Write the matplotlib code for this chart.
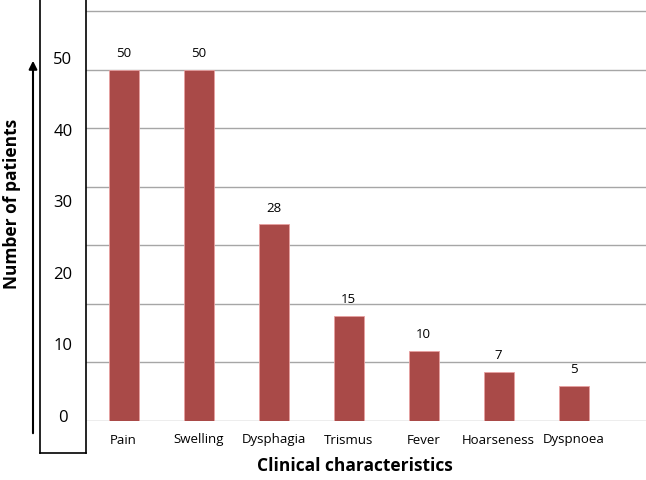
import matplotlib
matplotlib.use("Agg")
import matplotlib.pyplot as plt
import numpy as np

categories = ["Pain", "Swelling", "Dysphagia", "Trismus", "Fever", "Hoarseness", "Dyspnoea"]
patients = [50, 50, 28, 15, 10, 7, 5]
box_labels = [0, 10, 20, 30, 40, 50]

plt.rcParams['font.family'] = ['Open Sans', 'DejaVu Sans']

W, H = 646, 480
fig = plt.figure(figsize=(W / 100, H / 100), dpi=100)

# main plot area: x from 86 px to right edge, baseline at y=421 px, top at figure top
ax = fig.add_axes([86 / W, (H - 421) / H, (W - 86) / W, 421 / H])
x = np.arange(len(categories))
bar_color = "#A94A48"
ax.bar(x, patients, width=0.4, color=bar_color, edgecolor="#E8A0A0", linewidth=0.6, zorder=3)
ax.set_ylim(0, 421 / 7.02)
ax.set_xlim(-0.5, (W - 86) / 75 - 0.5)
for i in range(8):
    ax.axhline(i * 58.4 / 7, color="#A6A6A6", linewidth=1.0, zorder=1)
for xi, v in zip(x, patients):
    ax.text(xi, v + 1.4, str(v), ha="center", va="bottom", fontsize=9.5)
ax.set_xticks(x)
ax.set_xticklabels(categories, fontsize=9.5)
ax.tick_params(axis="x", length=0, pad=9)
ax.set_yticks([])
for s in ax.spines.values():
    s.set_visible(False)
fig.text(355 / W, (H - 466) / H, "Clinical characteristics", ha="center", va="center",
         fontsize=12.5, fontweight="bold")

# boxed y labels panel
bx = fig.add_axes([40 / W, 27 / H, 46 / W, 470 / H])
unit = 7.16
bx.set_ylim(-35 / unit, (470 - 35) / unit)
bx.set_xlim(0, 1)
for v in box_labels:
    bx.text(0.5, v, str(v), ha="center", va="center", fontsize=12)
bx.set_xticks([])
bx.set_yticks([])
for s in bx.spines.values():
    s.set_linewidth(1.2)
    s.set_color("black")

# arrow and y label
fig.patches.append(matplotlib.patches.FancyArrowPatch(
    (33 / W, (H - 436) / H), (33 / W, (H - 58) / H), transform=fig.transFigure,
    arrowstyle="-|>", mutation_scale=12, linewidth=1.5, color="black"))
fig.text(12 / W, (H - 204) / H, "Number of patients", rotation=90, ha="center", va="center",
         fontsize=12.5, fontweight="bold")

fig.savefig("out.png", dpi=100)
